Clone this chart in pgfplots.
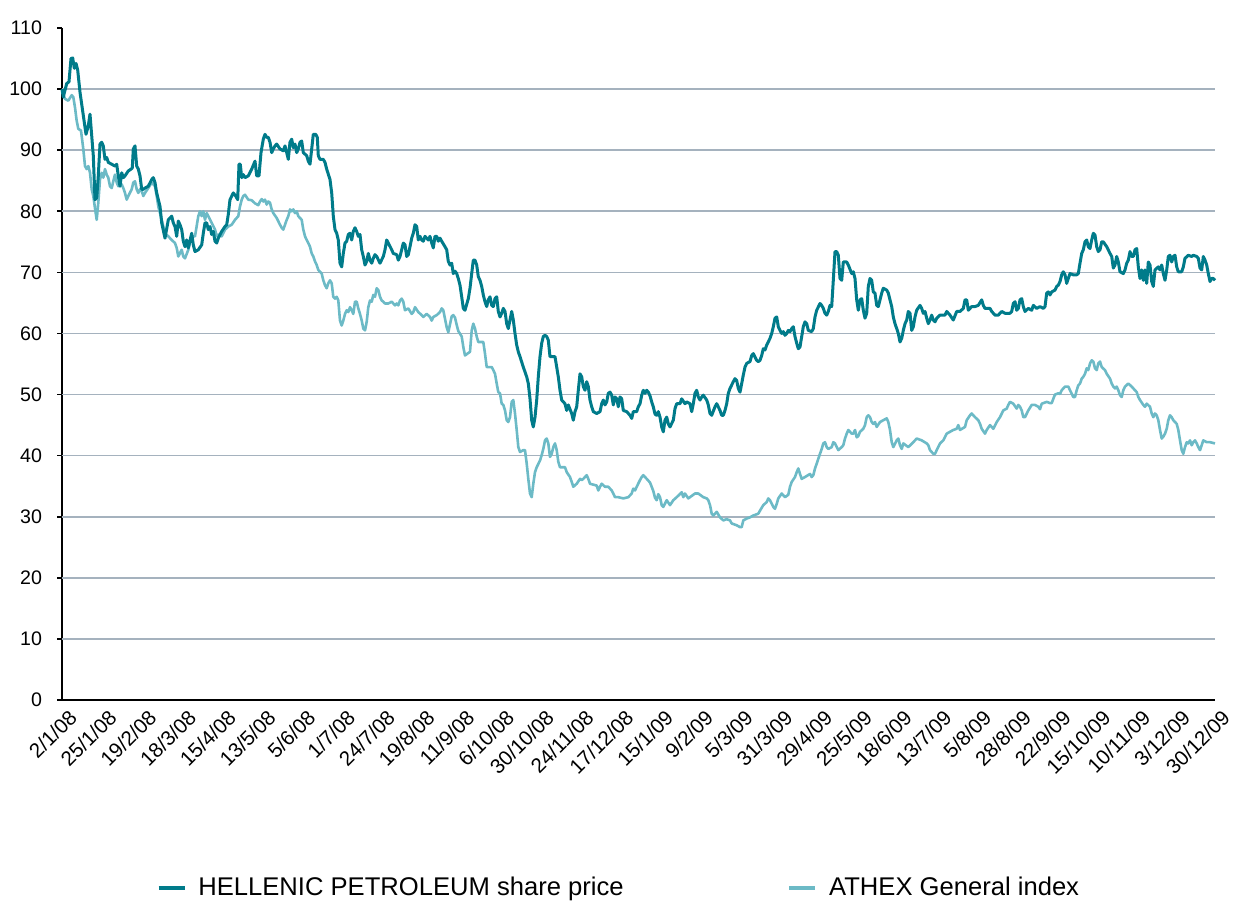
\documentclass[border=0pt]{standalone}
\usepackage{fontspec}
\setmainfont{Liberation Sans}
\usepackage{pgfplots}
\pgfplotsset{compat=1.18}
\definecolor{hellenic}{RGB}{0,123,138}
\definecolor{athex}{RGB}{108,186,198}
\definecolor{gridblue}{RGB}{165,178,190}

\begin{document}
\begin{tikzpicture}
\begin{axis}[
    scale only axis,
    width=576.5bp, height=336bp,
    xmin=0, xmax=1153, ymin=0, ymax=110,
    axis lines=left,
    axis line style={-, line width=1.1bp, black},
    clip=false,
    ytick={0,10,...,110},
    ytick style={black, line width=0.8bp},
    tick align=outside,
    major tick length=2.5bp,
    xtick={0,39.76,79.52,119.28,159.03,198.79,238.55,278.31,318.07,357.83,
           397.59,437.34,477.10,516.86,556.62,596.38,636.14,675.90,715.66,755.41,
           795.17,834.93,874.69,914.45,954.21,993.97,1033.72,1073.48,1113.24,1153},
    xticklabels={2/1/08,25/1/08,19/2/08,18/3/08,15/4/08,13/5/08,5/6/08,1/7/08,
                 24/7/08,19/8/08,11/9/08,6/10/08,30/10/08,24/11/08,17/12/08,
                 15/1/09,9/2/09,5/3/09,31/3/09,29/4/09,25/5/09,18/6/09,13/7/09,
                 5/8/09,28/8/09,22/9/09,15/10/09,10/11/09,3/12/09,30/12/09},
    xtick style={draw=none},
    xticklabel style={rotate=45, anchor=north east, inner sep=1bp, yshift=-2bp, xshift=2bp,
                      font=\fontsize{10.3bp}{11bp}\selectfont},
    yticklabel style={xshift=-4bp, font=\fontsize{9.8bp}{11bp}\selectfont},
    /pgf/number format/assume math mode=true,
    extra y ticks={10,20,...,100},
    extra y tick labels={},
    extra y tick style={grid=major, major tick length=0pt},
    grid style={gridblue, line width=0.8bp},
    reverse legend,
    legend columns=2,
    legend style={at={(0.484,-0.28)}, anchor=center, draw=none, fill=none,
                  font=\fontsize{12.8bp}{14bp}\selectfont,
                  /tikz/every even column/.append style={column sep=80bp}},
    legend image code/.code={\draw[line width=1.7bp] (0bp,0bp) -- (13bp,0bp);},
    line join=round,
]
\coordinate (sw) at (rel axis cs:0,0);

% ATHEX General index
\addplot[athex, line width=1.3bp, mark=none] coordinates {
(0,99.8)(3,98.4)(6.3,98.1)(9.7,99.0)(11.3,98.7)(13,97.0)(14.7,94.8)(16.3,93.5)(19,93.2)(21.3,90.2)
(23,87.4)(24.7,86.9)(26.3,87.4)(28,86.3)(29.7,83.6)(31.3,82.5)(33,80.5)(34.7,78.6)(36.3,81.4)(38,85.2)
(39.7,86.3)(41.3,85.5)(43,86.9)(44.7,86.0)(46.3,85.5)(48,84.1)(49.7,83.8)(51.3,84.9)(53,86.0)(54.7,84.7)
(56.3,84.1)(59.7,84.4)(61.3,83.8)(63,83.0)(64.7,81.9)(66.3,82.5)(69.7,83.6)(71.3,84.7)(73,84.9)(74.7,83.6)
(76.3,83.0)(78,83.6)(79.7,83.3)(81.3,82.5)(83,83.0)(86.3,83.8)(89.7,84.7)(93,84.1)(94.7,82.5)(96.3,80.8)
(99.7,78.6)(103,76.4)(106.3,75.9)(109.7,75.3)(113,74.8)(114.7,74.0)(116.3,72.6)(119.7,73.7)(121.3,72.6)(123,72.3)
(126.3,73.7)(129.7,75.9)(133,75.9)(136.3,79.2)(138,80.0)(139.7,79.2)(141.3,80.0)(143,78.6)(144.7,79.7)(146.3,79.2)
(149.7,78.1)(153,77.0)(154.7,75.9)(156.3,76.2)(159.7,75.9)(163,77.0)(166.3,77.5)(169.7,77.8)(173,78.6)(176.3,79.2)
(178,80.8)(179.7,81.9)(181.3,82.5)(183,82.7)(186.3,81.9)(189.7,81.8)(193,81.3)(196.3,81.0)(198,81.6)(199.7,82.0)
(201.3,81.6)(203,81.9)(204.7,81.1)(206.3,81.6)(208,81.4)(209.7,80.3)(211.3,79.7)(214.7,78.9)(218,77.8)(219.7,77.3)
(221.3,77.0)(223,77.8)(224.7,78.6)(226.3,79.2)(228,80.3)(229.7,80.0)(231.3,80.3)(233,79.7)(234.7,80.0)(236.3,79.2)
(238,78.9)(239.7,78.6)(241.3,77.0)(243,75.9)(244.7,75.3)(246.3,74.8)(248,74.2)(249.7,73.1)(251.3,72.6)(253,71.8)
(254.7,71.2)(256.3,70.4)(258,70.1)(259.7,69.8)(261.3,68.7)(263,67.9)(264.7,67.4)(266.3,68.2)(268,68.7)(269.7,68.2)
(271.3,66.0)(273,65.7)(274.7,66.0)(276.3,65.4)(278,62.1)(279.7,61.3)(281.3,62.1)(283,63.2)(284.7,63.8)(286.3,63.5)
(288,64.3)(289.7,63.8)(291.3,63.2)(293,65.2)(294.7,65.2)(296.3,64.1)(298,63.2)(299.7,62.1)(301.3,60.8)(303,60.5)
(304.7,61.9)(306.3,64.3)(308,65.4)(309.7,65.2)(311.3,66.3)(313,66.0)(314.7,67.4)(316.3,67.1)(318,66.0)(319.7,65.4)
(321.3,65.2)(323,64.9)(326.3,64.9)(329.7,65.2)(333,64.6)(334.7,64.9)(336.3,64.6)(338,65.4)(339.7,65.7)(341.3,65.2)
(343,63.8)(346.3,64.1)(349.7,63.2)(351.3,63.5)(353,64.3)(356.3,63.5)(359.7,63.0)(361.3,62.7)(364.7,63.2)(368,62.7)
(369.7,62.1)(371.3,62.7)(374.7,63.0)(378,63.5)(379.7,64.1)(381.3,63.8)(383,62.4)(384.7,61.0)(386.3,60.2)(388,61.5)
(389.7,62.8)(391.3,63.0)(393,62.6)(394.7,61.4)(396.3,60.4)(399.7,59.5)(401.3,57.8)(403,56.4)(408,57.0)(409.7,60.5)
(411.3,61.6)(413,60.8)(414.7,59.5)(416.3,58.6)(421.3,58.6)(423,56.7)(424.7,54.5)(429.7,54.5)(431.3,54.0)(433,53.4)
(434.7,51.8)(436.3,50.4)(438,50.2)(439.7,48.5)(441.3,48.3)(443,47.4)(444.7,45.8)(446.3,45.5)(448,46.3)(449.7,48.8)
(451.3,49.1)(453,46.9)(454.7,44.2)(456.3,41.4)(458,40.6)(461.3,40.9)(463,40.9)(464.7,38.7)(466.3,36.2)(468,33.8)
(469.7,33.2)(471.3,35.4)(473,37.3)(474.7,38.1)(478,39.2)(479.7,40.1)(481.3,41.1)(483,42.5)(484.7,42.8)(486.3,42.0)
(488,39.8)(489.7,40.3)(491.3,41.4)(493,42.0)(494.7,40.9)(496.3,39.0)(498,38.1)(503,38.1)(504.7,37.3)(508,36.5)
(509.7,35.7)(511.3,34.9)(514.7,35.4)(518,36.2)(519.7,36.0)(521.3,36.2)(524.7,36.8)(526.3,36.2)(528,35.4)(534.7,35.1)
(536.3,34.3)(538,34.9)(539.7,35.4)(543,34.9)(546.3,34.9)(549.7,34.3)(551.3,33.8)(553,33.2)(556.3,33.2)(561.3,33.0)
(566.3,33.2)(569.7,33.8)(571.3,34.6)(573,34.3)(574.7,34.9)(578,36.0)(579.7,36.5)(581.3,36.8)(584.7,36.2)(588,35.6)
(589.7,34.9)(591.3,34.2)(593,33.1)(594.7,32.7)(596.3,33.7)(598,33.2)(599.7,31.9)(601.3,31.6)(604.7,32.7)(608,31.9)
(611.3,32.7)(614.7,33.2)(619.7,34.0)(621.3,33.2)(623,33.8)(626.3,33.0)(633,33.8)(636.3,33.8)(641.3,33.2)(644.7,33.0)
(646.3,32.7)(648,31.9)(649.7,30.5)(651.3,30.2)(654.7,30.8)(658,29.9)(661.3,29.4)(664.7,29.6)(668,29.4)(669.7,28.9)
(674.7,28.6)(678,28.3)(679.7,28.3)(681.3,29.4)(684.7,29.7)(688,29.9)(691.3,30.2)(696.3,30.5)(698,31.0)(701.3,31.9)
(704.7,32.4)(706.3,33.0)(708,32.7)(711.3,31.6)(713,31.3)(714.7,32.1)(716.3,33.0)(719.7,33.8)(723,33.2)(726.3,33.6)
(728,34.9)(729.7,35.7)(733,36.5)(734.7,37.3)(736.3,37.9)(738,37.0)(739.7,36.2)(743,36.5)(748,37.0)(749.7,36.5)
(751.3,36.8)(753,37.9)(754.7,38.7)(756.3,39.5)(758,40.3)(759.7,41.1)(761.3,42.0)(763,42.2)(764.7,41.4)(766.3,41.1)
(769.7,41.4)(771.3,42.2)(773,42.0)(776.3,40.9)(779.7,41.4)(781.3,41.7)(783,42.8)(784.7,43.6)(786.3,44.2)(788,43.9)
(789.7,43.6)(791.3,43.6)(793,44.2)(794.7,43.0)(796.3,43.2)(798,43.9)(801.3,44.4)(803,45.0)(804.7,46.3)(806.3,46.6)
(808,46.3)(809.7,45.5)(811.3,45.2)(813,45.5)(814.7,44.7)(818,45.5)(821.3,45.8)(824.7,46.1)(826.3,45.5)(828,44.2)
(829.7,42.2)(831.3,41.4)(834.7,42.5)(836.3,42.8)(838,41.7)(839.7,41.1)(841.3,42.0)(846.3,41.4)(851.3,42.2)(854.7,42.8)
(859.7,42.5)(864.7,42.0)(866.3,41.7)(868,40.9)(871.3,40.3)(873,40.3)(874.7,40.9)(878,42.0)(881.3,42.5)(884.7,43.6)
(888,43.9)(891.3,44.2)(894.7,44.4)(896.3,45.0)(898,44.2)(903,44.7)(904.7,45.8)(908,46.6)(909.7,46.9)(913,46.3)
(916.3,45.8)(918,45.2)(919.7,44.4)(923,43.6)(924.7,44.2)(928,45.0)(931.3,44.4)(934.7,45.5)(938,46.3)(941.3,47.4)
(944.7,47.7)(946.3,48.3)(948,48.8)(951.3,48.5)(954.7,47.7)(956.3,48.3)(958,48.0)(959.7,47.4)(961.3,46.3)(963,46.3)
(966.3,47.4)(969.7,48.3)(973,48.3)(976.3,48.0)(978,47.6)(979.7,48.5)(984.7,48.8)(988,48.6)(989.7,48.6)(991.3,49.3)
(993,50.0)(996.3,50.2)(998,50.1)(999.7,50.7)(1001.3,51.0)(1003,51.3)(1006.3,51.3)(1008,50.7)(1011.3,49.6)(1013,49.6)
(1014.7,50.7)(1016.3,51.5)(1018,51.8)(1019.7,52.6)(1021.3,52.9)(1023,53.4)(1024.7,54.3)(1026.3,54.0)(1028,55.1)(1029.7,55.6)
(1031.3,55.4)(1033,54.3)(1034.7,54.0)(1036.3,55.1)(1038,55.4)(1039.7,54.5)(1043,54.0)(1044.7,53.4)(1048,52.6)(1049.7,51.8)
(1051.3,51.3)(1053,51.0)(1054.7,51.3)(1056.3,50.7)(1058,49.9)(1059.7,49.6)(1061.3,50.7)(1063,51.3)(1066.3,51.8)(1069.7,51.3)
(1073,50.7)(1074.7,50.4)(1076.3,49.6)(1078,49.1)(1081.3,48.3)(1083,48.0)(1084.7,48.5)(1088,48.0)(1089.7,46.9)(1091.3,46.3)
(1093,46.9)(1094.7,46.6)(1096.3,45.8)(1098,44.2)(1099.7,42.8)(1101.3,43.1)(1103,43.6)(1104.7,44.4)(1106.3,45.8)(1108,46.6)
(1109.7,46.3)(1111.3,45.8)(1114.7,45.2)(1116.3,44.2)(1118,42.5)(1119.7,40.9)(1121.3,40.3)(1123,41.4)(1124.7,42.2)(1126.3,42.0)
(1128,42.5)(1129.7,41.7)(1131.3,42.2)(1133,42.5)(1134.7,42.0)(1136.3,41.4)(1138,40.9)(1139.7,41.7)(1141.3,42.5)(1144.7,42.2)
(1148,42.2)(1153,42.0)
};
\addlegendentry{\hspace{4bp}ATHEX General index}

% HELLENIC PETROLEUM share price
\addplot[hellenic, line width=1.5bp, mark=none] coordinates {
(0,100.0)(1.3,98.7)(4.7,100.9)(7,101.2)(9,105.0)(10.7,105.1)(12.3,103.4)(14,104.2)(15.7,103.1)(18,99.5)
(21.3,95.7)(24,92.6)(26.3,94.0)(28,95.9)(29.7,92.4)(31.3,89.1)(33,81.9)(34.7,82.2)(36.3,85.8)(38,91.0)
(39.7,91.3)(41.3,90.7)(43,88.5)(44.7,88.8)(46.3,88.0)(49.7,87.7)(53,87.4)(54.7,87.7)(56.3,85.8)(58,84.1)
(59.7,86.3)(61.3,85.5)(63,85.8)(66.3,86.6)(69,86.9)(70.3,87.1)(71.3,90.2)(73,90.7)(74.7,87.4)(76.3,86.9)
(78,85.8)(79.7,83.6)(81.3,83.6)(83,83.8)(86.3,84.1)(89.7,85.2)(91.3,85.5)(93,84.7)(94.7,83.0)(98,80.8)
(99.7,78.1)(103,75.6)(106.3,78.6)(109.7,79.2)(111.3,78.1)(113,77.5)(114.7,75.9)(116.3,78.4)(118,77.8)(119.7,77.0)
(121.3,75.1)(123,74.2)(124.7,75.3)(126.3,74.0)(129.7,76.4)(131.3,74.5)(133,73.4)(136.3,73.7)(139.7,74.5)(141.3,76.4)
(143,78.1)(144.7,78.1)(146.3,77.0)(148,77.5)(149.7,76.2)(151.3,76.7)(153,75.1)(154.7,74.8)(156.3,75.6)(159.7,76.7)
(163,77.5)(164.7,77.8)(166.3,79.5)(168,81.9)(171.3,83.0)(173.7,82.5)(175.7,81.9)(177,87.7)(178.3,87.7)(179.7,85.5)
(181.3,86.0)(183,85.5)(186.3,85.8)(189.7,86.9)(193,88.2)(194.7,85.8)(197,85.8)(199,89.6)(201.3,91.8)(203,92.6)
(204.7,92.1)(206.3,92.1)(208,91.3)(209.7,89.6)(211.3,90.2)(213,90.7)(214.7,91.0)(218,90.2)(221.3,89.9)(223,90.7)
(224.7,89.6)(226.3,88.5)(228,91.3)(229.7,91.8)(231.3,90.4)(233,91.0)(234.7,89.6)(236.3,90.2)(238,91.3)(239.7,91.5)
(241.3,89.6)(244.7,89.1)(246.3,88.2)(248,87.7)(249.7,90.2)(251.3,92.6)(253.7,92.6)(255.3,92.1)(256.3,89.1)(258,88.5)
(261.3,88.5)(263,88.0)(264.7,86.9)(268,85.2)(269.7,83.0)(271.3,79.2)(273,77.0)(274.7,76.4)(276.3,75.3)(278,71.5)
(279.7,70.9)(281.3,73.1)(283,74.8)(284.7,75.1)(286.3,76.2)(288,76.4)(289.7,75.3)(291.3,76.7)(293,77.3)(294.7,76.7)
(296.3,75.9)(298,76.2)(299.7,73.7)(301.3,72.6)(303,71.2)(304.7,71.8)(306.3,73.1)(308,72.0)(309.7,71.5)(311.3,72.3)
(313,72.9)(314.7,72.6)(318,71.5)(321.3,72.6)(323,73.7)(324.7,75.3)(326.3,74.8)(329.7,73.7)(331.3,73.1)(334.7,72.9)
(336.3,72.0)(338,72.6)(339.7,73.7)(341.3,74.8)(343,74.5)(344.7,72.6)(346.3,72.9)(348,74.2)(349.7,75.6)(351.3,76.4)
(353,77.8)(354.7,77.5)(356.3,75.3)(358,75.9)(359.7,75.3)(361.3,75.1)(363,75.9)(366.3,75.3)(368,75.9)(369.7,74.8)
(371.3,74.0)(373,75.9)(374.7,75.9)(376.3,75.1)(378,75.6)(379.7,75.1)(383,74.2)(384.7,73.7)(386.3,71.8)(388,71.2)
(389.7,71.5)(391.3,69.8)(393,70.2)(394.7,69.8)(396.3,69.0)(398,67.9)(399.7,66.0)(401.3,64.1)(403,63.8)(406.3,65.7)
(408,67.4)(409.7,69.8)(411.3,72.0)(413,72.0)(414.7,71.2)(416.3,69.3)(418,68.7)(419.7,67.7)(421.3,66.3)(423,65.2)
(424.7,64.4)(426.3,65.5)(428,66.0)(429.7,64.6)(431.3,64.4)(433,65.7)(434.7,66.0)(436.3,63.6)(438,62.7)(439.7,63.3)
(441.3,64.1)(443,63.6)(444.7,61.6)(446.3,60.8)(448,62.2)(449.7,63.6)(451.3,62.2)(453,60.0)(454.7,58.1)(456.3,57.0)
(458,56.2)(461.3,54.5)(464.7,52.9)(466.3,51.8)(468,49.3)(469.7,45.8)(471.3,44.7)(473,46.3)(474.7,49.1)(476.3,52.9)
(478,56.2)(479.7,58.4)(481.3,59.5)(483,59.7)(484.7,59.5)(486.3,58.9)(488,56.2)(493,56.2)(494.7,54.5)(496.3,52.9)
(498,50.7)(499.7,49.1)(503,48.5)(504.7,47.4)(506.3,48.3)(509.7,46.9)(511.3,45.8)(513,47.2)(514.7,48.0)(516.3,50.7)
(518,53.4)(519.7,52.9)(521.3,51.3)(523,50.7)(524.7,52.1)(526.3,51.3)(528,49.1)(529.7,48.0)(531.3,47.2)(534.7,46.9)
(538,47.2)(539.7,48.5)(541.3,49.1)(543,48.3)(544.7,48.8)(546.3,50.2)(548,50.4)(549.7,49.9)(551.3,48.3)(553,49.6)
(554.7,49.3)(556.3,48.0)(558,49.6)(559.7,49.3)(561.3,47.4)(564.7,47.2)(568,46.6)(569.7,46.1)(571.3,47.2)(574.7,47.2)
(576.3,48.0)(578,48.5)(579.7,49.9)(581.3,50.7)(583,50.2)(584.7,50.7)(586.3,50.4)(588,49.8)(589.7,48.8)(591.3,48.0)
(593,46.8)(594.7,46.6)(596.3,47.2)(598,46.3)(599.7,44.7)(601.3,43.9)(603,45.8)(604.7,46.3)(606.3,45.2)(608,44.7)
(611.3,45.8)(613,47.7)(614.7,48.5)(618,48.5)(619.7,49.3)(623,48.5)(624.7,48.8)(628,48.5)(629.7,47.2)(631.3,48.5)
(633,50.2)(634.7,50.7)(636.3,49.6)(638,49.1)(639.7,49.6)(641.3,49.9)(644.7,49.1)(646.3,48.3)(648,46.9)(649.7,46.6)
(653,48.0)(654.7,48.5)(658,47.4)(659.7,46.6)(661.3,46.6)(663,47.4)(664.7,48.5)(666.3,50.2)(668,51.0)(671.3,52.1)
(673,52.6)(674.7,52.3)(676.3,51.0)(678,50.4)(679.7,51.8)(681.3,53.2)(683,54.5)(684.7,55.1)(688,55.4)(689.7,56.4)
(691.3,56.7)(694.7,55.6)(696.3,55.4)(698,55.6)(699.7,56.4)(701.3,57.5)(703,57.3)(704.7,58.1)(708,59.2)(709.7,60.0)
(711.3,61.1)(713,62.5)(714.7,62.7)(716.3,61.1)(718,60.5)(719.7,60.0)(721.3,60.3)(723,59.7)(724.7,60.0)(726.3,60.5)
(728,60.3)(729.7,60.8)(731.3,61.1)(733,59.5)(734.7,58.4)(736.3,57.5)(738,57.8)(739.7,59.5)(741.3,61.1)(743,61.9)
(744.7,61.6)(746.3,60.5)(749.7,60.3)(751.3,60.8)(753,62.7)(754.7,63.8)(758,64.9)(759.7,64.6)(761.3,64.1)(763,63.3)
(764.7,63.0)(766.3,63.6)(768,64.6)(769.7,64.4)(771.3,68.7)(773,73.4)(774.7,73.4)(776.3,72.8)(778,69.0)(779.7,68.7)
(781.3,71.7)(784.7,71.7)(786.3,71.2)(788,70.5)(789.7,69.8)(791.3,70.1)(793,69.0)(794.7,65.5)(796.3,63.8)(798,65.5)
(799.7,65.7)(801.3,63.8)(803,62.5)(804.7,63.3)(806.3,67.7)(808,69.0)(809.7,68.7)(811.3,66.8)(813,66.6)(814.7,64.6)
(816.3,64.4)(818,65.5)(819.7,66.6)(821.3,67.4)(824.7,67.1)(826.3,66.6)(828,65.5)(829.7,64.4)(831.3,62.7)(833,61.6)
(834.7,60.8)(836.3,60.0)(838,58.6)(839.7,59.2)(841.3,60.5)(843,61.6)(844.7,62.2)(846.3,63.6)(848,63.3)(849.7,60.5)
(851.3,61.1)(853,62.7)(854.7,63.8)(858,64.6)(859.7,64.1)(861.3,63.3)(863,63.6)(864.7,62.5)(866.3,61.6)(868,62.2)
(869.7,63.0)(871.3,62.2)(873,61.9)(874.7,62.5)(878,63.0)(883,63.0)(884.7,63.6)(888,63.0)(891.3,62.2)(894.7,63.6)
(898,63.6)(901.3,64.1)(903,65.5)(904.7,65.5)(906.3,63.8)(909.7,64.4)(913,64.4)(916.3,64.6)(919.7,65.5)(921.3,64.6)
(923,64.1)(928,64.1)(929.7,63.6)(933,63.0)(936.3,63.0)(939.7,63.6)(943,63.3)(948,63.3)(949.7,63.6)(951.3,64.9)
(953,65.2)(954.7,63.8)(956.3,64.1)(958,65.5)(959.7,65.7)(961.3,64.4)(963,63.6)(966.3,64.1)(969.7,63.8)(971.3,64.6)
(974.7,64.1)(978,64.4)(981.3,64.1)(983,64.4)(984.7,66.6)(986.3,66.8)(988,66.3)(989.7,66.8)(993,67.1)(994.7,67.7)
(996.3,67.9)(998,68.5)(999.7,69.6)(1001.3,70.1)(1003,69.6)(1004.7,68.2)(1006.3,69.0)(1008,69.8)(1011.3,69.6)(1014.7,69.6)
(1016.3,69.8)(1018,71.5)(1019.7,73.1)(1021.3,73.7)(1023,75.0)(1024.7,75.3)(1026.3,74.2)(1028,73.9)(1029.7,75.3)(1031.3,76.4)
(1033,76.1)(1034.7,74.2)(1036.3,73.4)(1038,73.7)(1039.7,75.0)(1041.3,75.0)(1044.7,74.2)(1048,73.1)(1049.7,72.6)(1051.3,70.7)
(1053,71.2)(1054.7,72.6)(1056.3,71.7)(1058,70.1)(1061.3,69.8)(1063,70.4)(1064.7,71.5)(1066.3,72.0)(1068,73.4)(1069.7,72.6)
(1071.3,72.6)(1073,73.7)(1074.7,73.9)(1076.3,70.9)(1078,69.0)(1079.7,70.4)(1081.3,68.7)(1083,70.4)(1084.7,68.2)(1086.3,71.7)
(1088,71.2)(1089.7,68.5)(1091.3,67.7)(1093,70.4)(1096.3,70.9)(1098,70.4)(1099.7,71.2)(1101.3,69.8)(1103,68.7)(1104.7,70.4)
(1106.3,72.6)(1108,72.8)(1109.7,71.7)(1111.3,72.6)(1113,72.8)(1114.7,70.9)(1116.3,70.1)(1119.7,70.1)(1121.3,70.9)(1123,72.3)
(1126.3,72.8)(1129.7,72.6)(1131.3,72.8)(1134.7,72.6)(1136.3,72.3)(1138,70.7)(1139.7,70.4)(1141.3,72.6)(1143,72.0)(1144.7,71.2)
(1146.3,69.8)(1148,68.5)(1149.7,69.0)(1151.3,69.0)(1153,68.7)
};
\addlegendentry{\hspace{4bp}HELLENIC PETROLEUM share price}
\end{axis}
% page size as in the reference
\path (sw) ++(-31bp,-101bp) rectangle ++(621.5bp,451bp);
\end{tikzpicture}
\end{document}
